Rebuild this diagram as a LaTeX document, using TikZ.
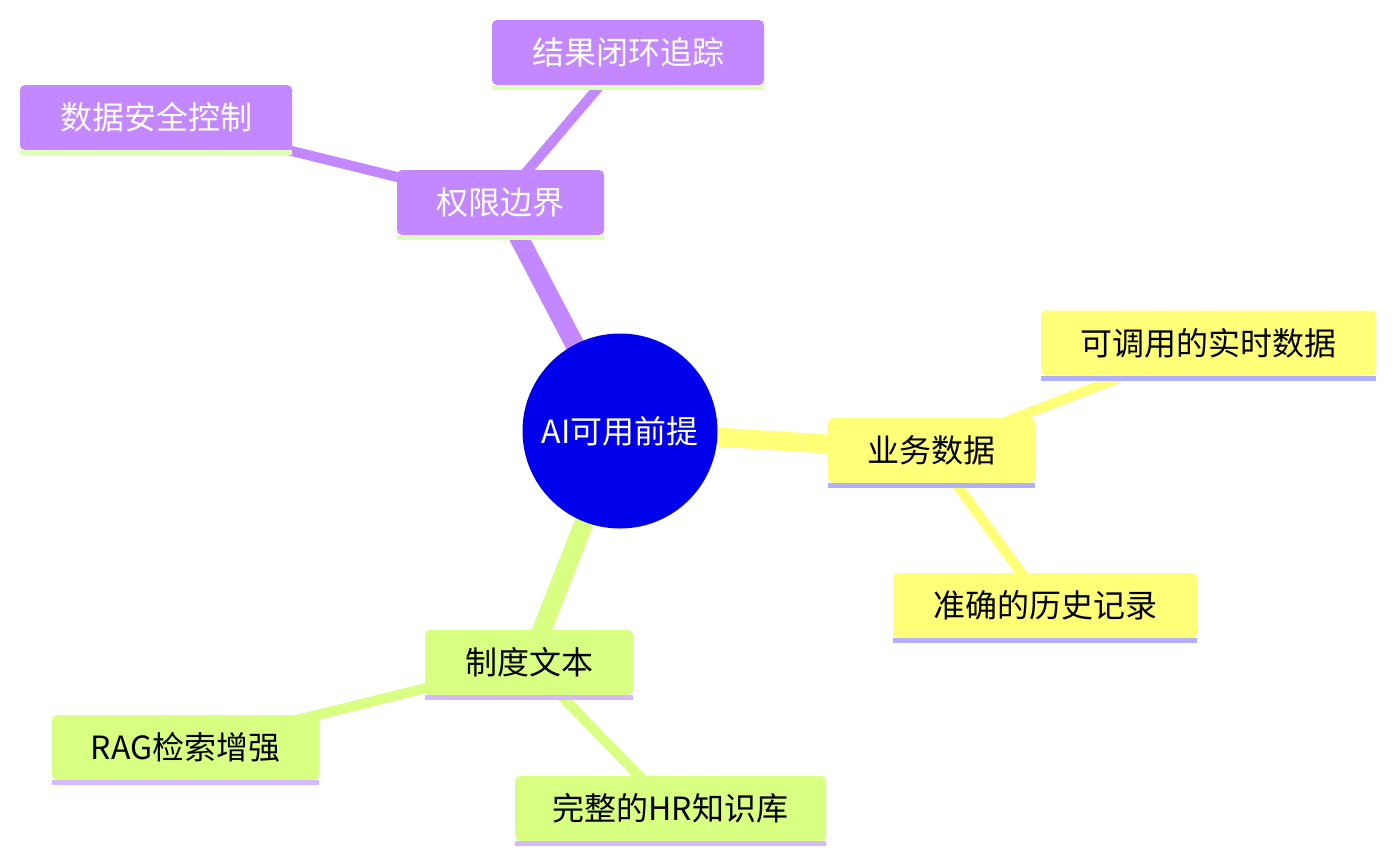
\documentclass[tikz,border=0pt]{standalone}
\usepackage{fontspec}
\setmainfont{Noto Sans CJK SC}
\usetikzlibrary{backgrounds}
\definecolor{rootblue}{HTML}{0000EB}
\definecolor{cpur}{HTML}{C387FF}
\definecolor{cyel}{HTML}{FFFF78}
\definecolor{cgrn}{HTML}{D9FF82}
\definecolor{upur}{HTML}{DDFFB8}
\definecolor{uyel}{HTML}{B0B0FF}
\definecolor{ugrn}{HTML}{D6B8FF}
\tikzset{
  box/.style={rounded corners=5pt, minimum height=65pt, inner sep=0pt, font=\fontsize{32}{36}\selectfont},
  pbox/.style={box, fill=cpur, text=white},
  ybox/.style={box, fill=cyel, text=black},
  gbox/.style={box, fill=cgrn, text=black},
  lvl0/.style={line width=19pt, line cap=butt},
  lvl1/.style={line width=10pt, line cap=butt},
}
\begin{document}
\begin{tikzpicture}[x=1pt,y=-1pt]
\useasboundingbox (0,0) rectangle (1396,863);
\node[circle, fill=rootblue, text=white, minimum size=195pt, inner sep=0pt, font=\fontsize{32}{36}\selectfont] (root) at (620,431) {AI可用前提};
\node[pbox, minimum width=207pt] (qx) at (500.5,202.5) {权限边界};
\node[pbox, minimum width=272pt] (jg) at (628,52.5) {结果闭环追踪};
\node[pbox, minimum width=272pt] (sj) at (156,117.5) {数据安全控制};
\node[ybox, minimum width=207pt] (yw) at (931.5,450.5) {业务数据};
\node[ybox, minimum width=335pt] (kd) at (1208.5,343) {可调用的实时数据};
\node[ybox, minimum width=304pt] (zq) at (1045,605.5) {准确的历史记录};
\node[gbox, minimum width=208pt] (zd) at (529,662.5) {制度文本};
\node[gbox, minimum width=267pt] (rag) at (185.5,747.5) {RAG检索增强};
\node[gbox, minimum width=311pt] (wz) at (670.5,808.5) {完整的HR知识库};
\foreach \n/\c in {qx/upur,jg/upur,sj/upur,yw/uyel,kd/uyel,zq/uyel,zd/ugrn,rag/ugrn,wz/ugrn}{
  \fill[\c] (\n.south west) rectangle ([yshift=-5pt]\n.south east);
}
\begin{scope}[on background layer]
\draw[lvl0, cpur] (root.center) -- (qx.center);
\draw[lvl0, cyel] (root.center) -- (yw.center);
\draw[lvl0, cgrn] (root.center) -- (zd.center);
\draw[lvl1, cpur] (qx.center) -- (jg.center);
\draw[lvl1, cpur] (qx.center) -- (sj.center);
\draw[lvl1, cyel] (yw.center) -- (kd.center);
\draw[lvl1, cyel] (yw.center) -- (zq.center);
\draw[lvl1, cgrn] (zd.center) -- (rag.center);
\draw[lvl1, cgrn] (zd.center) -- (wz.center);
\end{scope}
\end{tikzpicture}
\end{document}
